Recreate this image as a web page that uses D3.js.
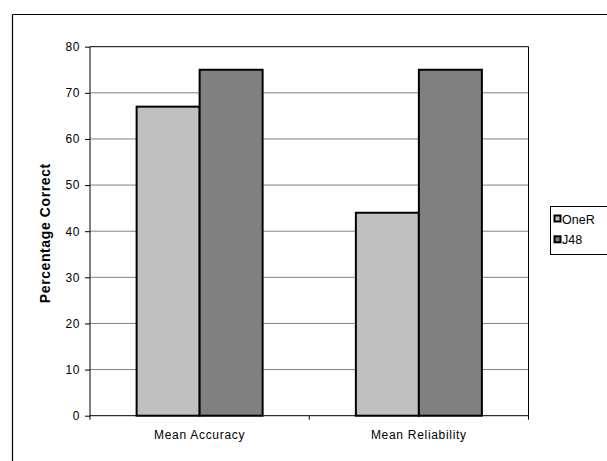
<!DOCTYPE html>
<html><head><meta charset="utf-8">
<script src="https://cdn.jsdelivr.net/npm/d3@7"></script>
<style>body{margin:0;background:#fff}svg{display:block}</style>
</head><body>
<script>
const categories = ["Mean Accuracy", "Mean Reliability"];
const seriesNames = ["OneR", "J48"];
const oneR = [67, 44];
const j48 = [75, 75];
const yTicks = [0, 10, 20, 30, 40, 50, 60, 70, 80];
const colors = ["#C0C0C0", "#808080"];

const W = 607, H = 461;
const svg = d3.select("body").append("svg").attr("width", W).attr("height", H);
const font = "Liberation Sans, Arial, sans-serif";

// outer chart border (top and left visible)
svg.append("line").attr("x1", 12.5).attr("x2", 607).attr("y1", 14.5).attr("y2", 14.5).attr("stroke", "#000").attr("stroke-width", 1.2);
svg.append("line").attr("x1", 12.5).attr("x2", 12.5).attr("y1", 14.5).attr("y2", H).attr("stroke", "#000").attr("stroke-width", 1.2);

const L = 90, R = 528.5, T = 46.7, B = 415.7;
const x = d3.scaleBand().domain(categories).range([L, R]);
const y = d3.scaleLinear().domain([0, 80]).range([B, T]);
const barW = 63;

// gridlines
svg.append("g").selectAll("line").data(yTicks.filter(d => d > 0 && d < 80)).join("line")
  .attr("x1", L).attr("x2", R).attr("y1", d => y(d)).attr("y2", d => y(d))
  .attr("stroke", "#808080").attr("stroke-width", 1);

// plot border top & right
svg.append("line").attr("x1", L).attr("x2", R).attr("y1", y(80)).attr("y2", y(80)).attr("stroke", "#000");
svg.append("line").attr("x1", R).attr("x2", R).attr("y1", y(80)).attr("y2", B).attr("stroke", "#000");

// bars
categories.forEach((c, i) => {
  const cx = x(c) + x.bandwidth() / 2;
  [oneR[i], j48[i]].forEach((v, s) => {
    const x0 = cx - barW + s * barW;
    svg.append("rect").attr("x", x0).attr("y", y(v)).attr("width", barW).attr("height", B - y(v))
      .attr("fill", colors[s]).attr("stroke", "#000").attr("stroke-width", 2);
  });
});

// y axis
const ya = svg.append("g").attr("transform", `translate(${L},0)`)
  .call(d3.axisLeft(y).tickValues(yTicks).tickSize(5).tickPadding(5));
ya.select(".domain").attr("stroke", "#000").attr("d", `M0,${T}V${B}`);
ya.selectAll("text").attr("font-family", font).attr("font-size", 12).attr("letter-spacing", 0.6).attr("fill", "#000");

// x axis
const xa = svg.append("g").attr("transform", `translate(0,${B})`);
xa.append("line").attr("x1", L).attr("x2", R).attr("stroke", "#000");
xa.selectAll("line.t").data([L, L + x.bandwidth(), R]).join("line").attr("class", "t")
  .attr("x1", d => d).attr("x2", d => d).attr("y1", 0).attr("y2", 4).attr("stroke", "#000");
xa.selectAll("text").data(categories).join("text")
  .attr("x", d => x(d) + x.bandwidth() / 2).attr("y", 23.5)
  .attr("text-anchor", "middle").attr("font-family", font).attr("font-size", 12)
  .attr("letter-spacing", 0.7).text(d => d);

// y title
svg.append("text").attr("transform", `translate(50,${(T + B) / 2 + 2}) rotate(-90)`)
  .attr("text-anchor", "middle").attr("font-family", font).attr("font-size", 14).attr("font-weight", "bold")
  .attr("letter-spacing", 0.6).text("Percentage Correct");

// legend
const lg = svg.append("g");
lg.append("rect").attr("x", 550.5).attr("y", 206.5).attr("width", 80).attr("height", 48)
  .attr("fill", "#fff").attr("stroke", "#000");
seriesNames.forEach((n, i) => {
  const yy = 219 + i * 20.8;
  lg.append("rect").attr("x", 554.5).attr("y", yy - 3.5).attr("width", 6).attr("height", 6)
    .attr("fill", colors[i]).attr("stroke", "#000").attr("stroke-width", 2);
  lg.append("text").attr("x", 562).attr("y", yy + 4.5).attr("font-family", font).attr("font-size", 12.5).text(n);
});
</script>
</body></html>
